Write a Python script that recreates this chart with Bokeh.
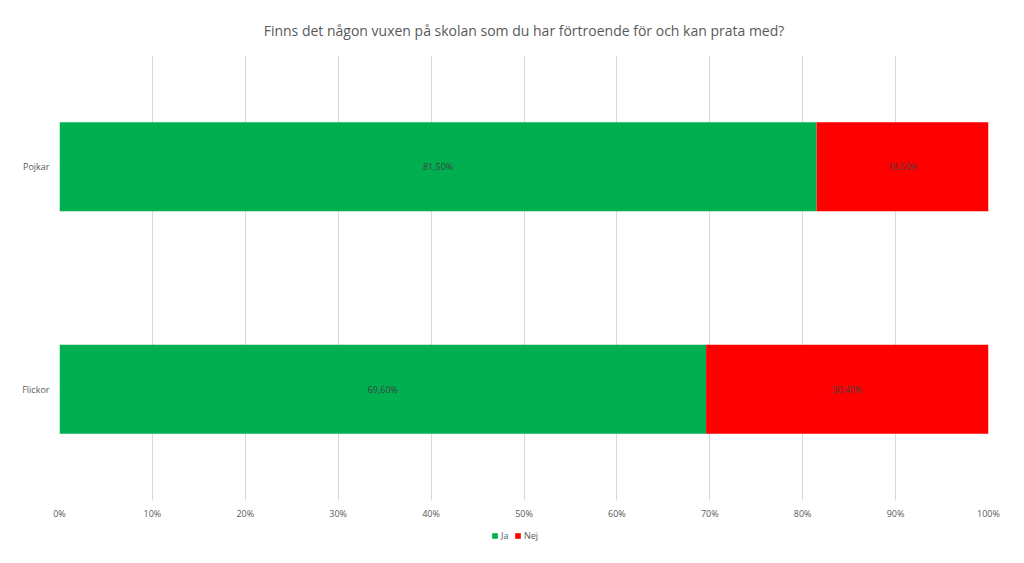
from bokeh.plotting import figure
from bokeh.layouts import column
from bokeh.models import ColumnDataSource, Legend, LegendItem, FixedTicker, CustomJSTickFormatter
from bokeh.embed import file_html
from bokeh.resources import INLINE
from bokeh.core.properties import value

categories = ["Flickor", "Pojkar"]
ja = [69.6, 81.5]
nej = [30.4, 18.5]
ja_labels = ["69,60%", "81,50%"]
nej_labels = ["30,40%", "18,50%"]
x_ticks = [0, 10, 20, 30, 40, 50, 60, 70, 80, 90, 100]
series = ["Ja", "Nej"]

GREEN = "#00B050"
RED = "#FF0000"
TXT = "#595959"
FONT = "Open Sans"

src = ColumnDataSource(dict(
    cat=categories, Ja=ja, Nej=nej,
    ja_mid=[v / 2 for v in ja],
    nej_mid=[a + b / 2 for a, b in zip(ja, nej)],
    ja_lab=ja_labels, nej_lab=nej_labels,
))

W = 1016
p = figure(y_range=categories, x_range=(0, 100), width=W, height=528,
           output_backend="svg", toolbar_location=None,
           min_border_left=59, min_border_right=W - 988, min_border_top=55, min_border_bottom=28)

r = p.hbar_stack(series, y="cat", height=0.4, source=src,
                 color=[GREEN, RED], line_color=None)

p.text(x="ja_mid", y="cat", text="ja_lab", source=src, text_align="center",
       text_baseline="middle", text_font=value(FONT), text_font_size="9px", text_color="#404040")
p.text(x="nej_mid", y="cat", text="nej_lab", source=src, text_align="center",
       text_baseline="middle", text_font=value(FONT), text_font_size="9px", text_color="#404040")

p.title.text = "Finns det någon vuxen på skolan som du har förtroende för och kan prata med?"
p.title.align = "center"
p.title.text_font = FONT
p.title.text_font_size = "14px"
p.title.text_font_style = "normal"
p.title.text_color = TXT
p.title.standoff = 32

p.xaxis.ticker = FixedTicker(ticks=x_ticks)
p.xaxis.formatter = CustomJSTickFormatter(code="return tick + '%';")
for ax in (p.xaxis[0], p.yaxis[0]):
    ax.axis_line_color = None
    ax.major_tick_line_color = None
    ax.minor_tick_line_color = None
    ax.major_tick_out = 0
    ax.major_tick_in = 0
    ax.major_label_text_font = FONT
    ax.major_label_text_font_size = "9px"
    ax.major_label_text_color = TXT
p.xaxis.major_label_standoff = 6
p.yaxis.major_label_standoff = 10

p.xgrid.grid_line_color = "#D9D9D9"
p.ygrid.grid_line_color = None
p.outline_line_color = None

# legend strip below the chart (frames are aligned by the column layout);
# its swatch renderers sit outside the visible range, only the legend shows
lg = figure(width=W, height=27, x_range=(0, 1), y_range=(0, 1),
            output_backend="svg", toolbar_location=None,
            x_axis_location=None, y_axis_location=None,
            min_border_left=0, min_border_right=0, min_border_top=0, min_border_bottom=0)
lg.grid.grid_line_color = None
lg.outline_line_color = None
offscreen = ColumnDataSource(dict(l=[-3], r=[-2], b=[-3], t=[-2]))
lr = [lg.quad(left="l", right="r", bottom="b", top="t", source=offscreen,
              fill_color=c, line_color=None) for c in (GREEN, RED)]
legend = Legend(items=[LegendItem(label=s, renderers=[rr]) for s, rr in zip(series, lr)],
                orientation="horizontal", location=(432, 13),
                label_text_font=FONT, label_text_font_size="9px", label_text_color=TXT,
                glyph_width=7, glyph_height=7, spacing=5, label_standoff=3,
                label_height=12, label_width=8,
                border_line_color=None, background_fill_alpha=0, padding=0, margin=0)
lg.add_layout(legend, "center")

layout = column(p, lg, spacing=0)
open("out.html", "w").write(file_html(layout, INLINE))
